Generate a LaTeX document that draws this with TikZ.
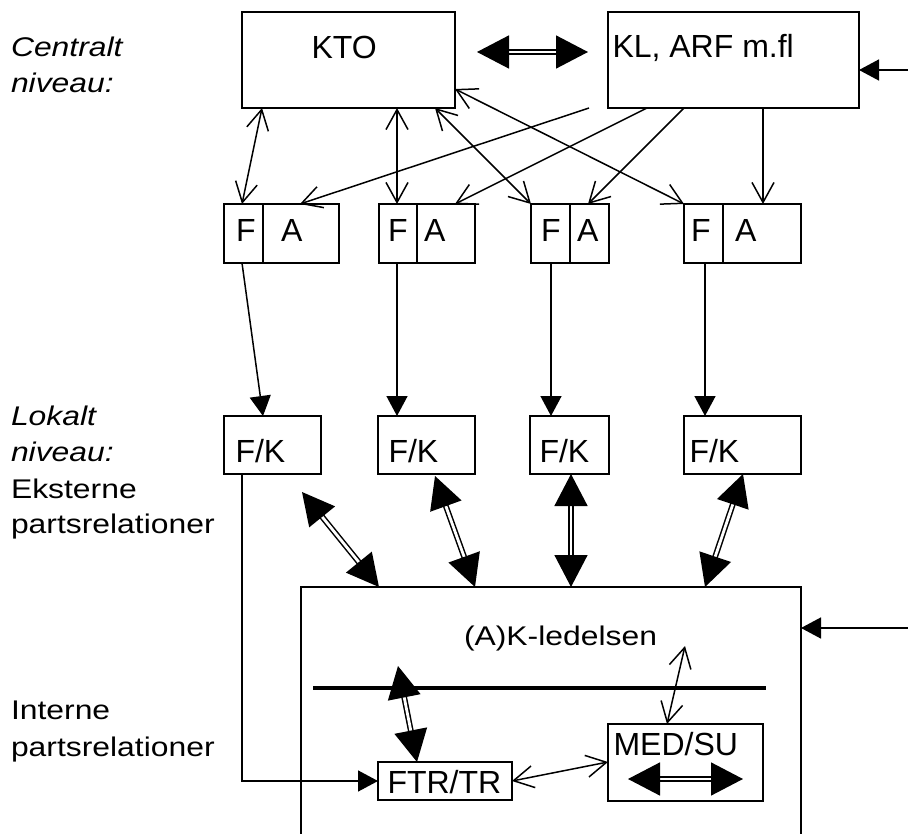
\documentclass[tikz,border=0pt]{standalone}
\usepackage{fontspec}
\setmainfont{Liberation Sans}
\newfontfamily\widefont[FakeStretch=1.18]{Liberation Sans}
\usetikzlibrary{arrows.meta}
\begin{document}
\begin{tikzpicture}[x=1pt,y=-1pt,
  box/.style={draw, line width=1.6pt, outer sep=0pt, inner sep=0pt, anchor=north west},
  txt/.style={anchor=base west, inner sep=0pt, outer sep=0pt, font=\fontsize{32}{36}\selectfont},
  lbl/.style={anchor=base west, inner sep=0pt, outer sep=0pt, font=\widefont\fontsize{27}{36}\selectfont},
  ilbl/.style={lbl, font=\widefont\itshape\fontsize{27}{36}\selectfont},
  oab/.style={line width=1.5pt, {Straight Barb[length=20pt,width=22pt]}-{Straight Barb[length=20pt,width=22pt]}},
  oa/.style={line width=1.5pt, -{Straight Barb[length=20pt,width=22pt]}},
  sa/.style={line width=1.5pt, -{Triangle[length=20pt,width=21pt]}},
  dba/.style={line width=1.5pt, double, double distance=2.8pt, {Triangle[length=32pt,width=33pt]}-{Triangle[length=32pt,width=33pt]}}
]
\fill[white] (0,0) rectangle (908,834);
\useasboundingbox (0,0) rectangle (908,834);

% boxes
\node[box, minimum width=213pt, minimum height=96pt] (kto) at (242,12) {};
\node[box, minimum width=251pt, minimum height=96pt] (kl) at (608,12) {};
\node[box, minimum width=39pt, minimum height=59pt] (fa1f) at (224,204) {};
\node[box, minimum width=76pt, minimum height=59pt] (fa1a) at (263,204) {};
\node[box, minimum width=38pt, minimum height=59pt] (fa2f) at (379,204) {};
\node[box, minimum width=58pt, minimum height=59pt] (fa2a) at (417,204) {};
\node[box, minimum width=39pt, minimum height=59pt] (fa3f) at (531,204) {};
\node[box, minimum width=39pt, minimum height=59pt] (fa3a) at (570,204) {};
\node[box, minimum width=39pt, minimum height=59pt] (fa4f) at (684,204) {};
\node[box, minimum width=78pt, minimum height=59pt] (fa4a) at (723,204) {};
\node[box, minimum width=97pt, minimum height=58pt] (fk1) at (224,416) {};
\node[box, minimum width=97pt, minimum height=58pt] (fk2) at (378,416) {};
\node[box, minimum width=79pt, minimum height=58pt] (fk3) at (530,416) {};
\node[box, minimum width=117pt, minimum height=58pt] (fk4) at (684,416) {};
\node[box, minimum width=500pt, minimum height=260pt] (big) at (301,587) {};
\node[box, minimum width=134pt, minimum height=38pt] (ftr) at (378,762) {};
\node[box, minimum width=155pt, minimum height=77pt] (med) at (608,724) {};

% texts in boxes
\node[txt] (tkto) at (311.5,59) {KTO};
\node[txt] (tkl) at (612.5,58) {KL, ARF m.fl};
\node[txt] (tf1) at (236,242) {F};
\node[txt] (ta1) at (281,242) {A};
\node[txt] (tf2) at (388,242) {F};
\node[txt] (ta2) at (424,242) {A};
\node[txt] (tf3) at (541,242) {F};
\node[txt] (ta3) at (577,242) {A};
\node[txt] (tf4) at (691,242) {F};
\node[txt] (ta4) at (735,242) {A};
\node[txt] (tfk1) at (235.5,462) {F/K};
\node[txt] (tfk2) at (388.5,462) {F/K};
\node[txt] (tfk3) at (539.5,462) {F/K};
\node[txt] (tfk4) at (689.5,462) {F/K};
\node[lbl] (tled) at (464,645) {(A)K-ledelsen};
\node[txt] (tmed) at (613.5,755) {MED/SU};
\node[txt] (tftr) at (387.5,793) {FTR/TR};

% left labels
\node[ilbl] (l1) at (11,57) {Centralt};
\node[ilbl] (l2) at (11,93) {niveau:};
\node[ilbl] (l3) at (11,425) {Lokalt};
\node[ilbl] (l4) at (11,461.5) {niveau:};
\node[lbl] (l5) at (11,498.5) {Eksterne};
\node[lbl] (l6) at (11,533.5) {partsrelationer};
\node[lbl] (l7) at (11,719) {Interne};
\node[lbl] (l8) at (11,756) {partsrelationer};

% free-end coordinates
\coordinate (rin1) at (908,70);
\coordinate (rin2) at (908,628);
\coordinate (ftrup) at (398,666);
\coordinate (medup) at (685,646);

% central level
\draw[dba] ([xshift=22pt,yshift=8pt]kto.east) -- ([xshift=-20pt,yshift=8pt]kl.west);
\draw[sa] (rin1) -- ([yshift=-10pt]kl.east);
\draw[oab] ([xshift=20pt]kto.south west) -- ([xshift=18pt]fa1f.north west);
\draw[oab] ([xshift=155pt]kto.south west) -- ([xshift=18pt]fa2f.north west);
\draw[oab] ([xshift=-20pt]kto.south east) -- (fa3f.north west);
\draw[oab] ([yshift=19pt]kto.south east) -- (fa4f.north west);
\draw[oa] ([xshift=-19pt]kl.south west) -- ([xshift=37pt]fa1a.north west);
\draw[oa] ([xshift=39pt]kl.south west) -- ([xshift=38pt]fa2a.north west);
\draw[oa] ([xshift=76pt]kl.south west) -- ([xshift=18pt]fa3a.north west);
\draw[oa] ([xshift=155pt]kl.south west) -- ([xshift=40pt]fa4a.north west);

% F/A -> F/K
\draw[sa] ([xshift=18pt]fa1f.south west) -- ([xshift=39pt]fk1.north west);
\draw[sa] ([xshift=18pt]fa2f.south west) -- ([xshift=19pt]fk2.north west);
\draw[sa] ([xshift=20pt]fa3f.south west) -- ([xshift=21pt]fk3.north west);
\draw[sa] ([xshift=21pt]fa4f.south west) -- ([xshift=21pt]fk4.north west);

% F/K <-> big box
\draw[dba] ([xshift=78pt,yshift=-18pt]fk1.south west) -- ([xshift=78pt]big.north west);
\draw[dba] ([xshift=57pt,yshift=-2pt]fk2.south west) -- ([xshift=174pt]big.north west);
\draw[dba] ([xshift=41pt]fk3.south west) -- ([xshift=270pt]big.north west);
\draw[dba] ([xshift=59pt]fk4.south west) -- ([xshift=404pt]big.north west);
\draw[sa] (rin2) -- ([yshift=-41pt]big.north east);

% internal
\draw[line width=3.2pt] ([xshift=12pt,yshift=-101pt]big.north west) -- ([xshift=-35pt,yshift=-101pt]big.north east);
\draw[sa] ([xshift=18pt]fk1.south west) |- (ftr.west);
\draw[dba] ([xshift=39pt]ftr.north west) -- (ftrup);
\draw[oab] (ftr.east) -- ([yshift=-38pt]med.north west);
\draw[oab] ([xshift=59pt]med.north west) -- (medup);
\draw[dba] ([xshift=20pt,yshift=-55pt]med.north west) -- ([xshift=-20pt,yshift=-55pt]med.north east);
\end{tikzpicture}
\end{document}
